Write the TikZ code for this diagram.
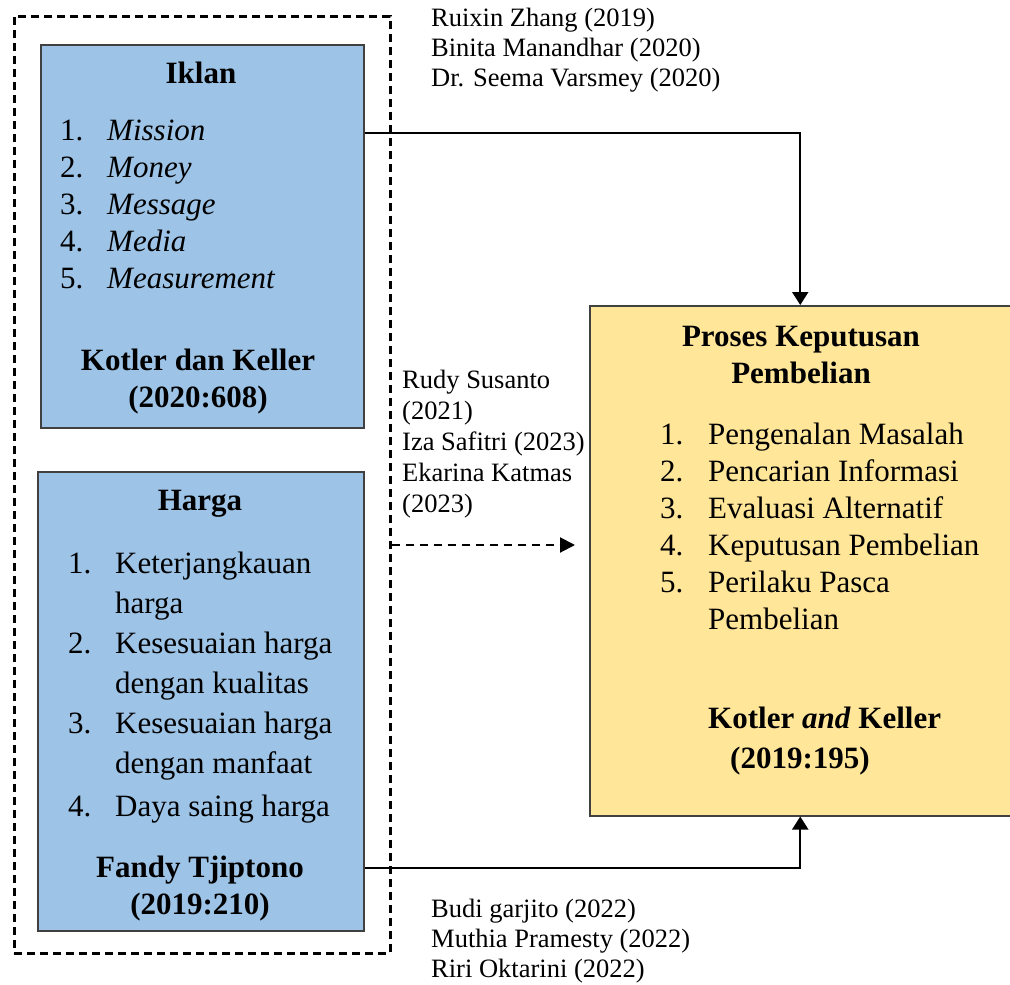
\documentclass[tikz,border=0pt]{standalone}
\usepackage{fontspec}
\setmainfont{Liberation Serif}
\usetikzlibrary{arrows.meta}
\definecolor{iklanfill}{HTML}{9DC3E6}
\definecolor{keputusanfill}{HTML}{FFE699}
\newcommand{\bodysize}{\fontsize{31}{37}\selectfont}
\newcommand{\refsize}{\fontsize{26.5}{30}\selectfont}

\begin{document}
\begin{tikzpicture}[x=1pt, y=-1pt,
    varbox/.style={draw=black!75, line width=1.5, anchor=north west, inner sep=0},
    groupbox/.style={draw=black, line width=2.5, dash pattern=on 8pt off 5pt, anchor=north west, inner sep=0},
    txt/.style={inner sep=0, font=\bodysize},
    reflist/.style={inner sep=0, anchor=base west, font=\refsize},
    flow/.style={line width=2, -{Triangle[width=16pt,length=13pt]}},
    dashflow/.style={line width=2, dash pattern=on 8pt off 6pt, -{Triangle[width=15pt,length=15pt]}}]
  \useasboundingbox (0,0) rectangle (1010,985);

  % Define the boxes
  \node[groupbox, minimum width=376, minimum height=937] (kelompok) at (13,15) {};
  \node[varbox, fill=iklanfill, minimum width=323, minimum height=383] (iklan) at (40,44) {};
  \node[varbox, fill=iklanfill, minimum width=326, minimum height=459] (harga) at (37,471) {};
  \node[varbox, fill=keputusanfill, minimum width=421, minimum height=510] (keputusan) at (589,305) {};

  % Iklan
  \node[txt, anchor=base] (iklanjudul) at (201,83) {\textbf{Iklan}};
  \node[txt, anchor=base west] (iklanisi) at (60,140) {\begin{tabular}[t]{@{}p{47pt}@{}l@{}}
      1. & \textit{Mission}\\
      2. & \textit{Money}\\
      3. & \textit{Message}\\
      4. & \textit{Media}\\
      5. & \textit{Measurement}
    \end{tabular}};
  \node[txt, anchor=base] (iklansumber) at (198,370) {\begin{tabular}[t]{@{}c@{}}
      \textbf{Kotler dan Keller}\\ \textbf{(2020:608)}
    \end{tabular}};

  % Harga
  \node[txt, anchor=base] (hargajudul) at (200,510) {\textbf{Harga}};
  \node[txt, anchor=base west, font=\fontsize{31}{40}\selectfont] (hargaisi) at (68,573) {\begin{tabular}[t]{@{}p{47pt}@{}l@{}}
      1. & Keterjangkauan\\
         & harga\\
      2. & Kesesuaian harga\\
         & dengan kualitas\\
      3. & Kesesuaian harga\\
         & dengan manfaat\\[3pt]
      4. & Daya saing harga
    \end{tabular}};
  \node[txt, anchor=base] (hargasumber) at (200,877) {\begin{tabular}[t]{@{}c@{}}
      \textbf{Fandy Tjiptono}\\ \textbf{(2019:210)}
    \end{tabular}};

  % Proses Keputusan Pembelian
  \node[txt, anchor=base] (keputusanjudul) at (801,346) {\begin{tabular}[t]{@{}c@{}}
      \textbf{Proses Keputusan}\\ \textbf{Pembelian}
    \end{tabular}};
  \node[txt, anchor=base west] (keputusanisi) at (660,444) {\begin{tabular}[t]{@{}p{48pt}@{}l@{}}
      1. & Pengenalan Masalah\\
      2. & Pencarian Informasi\\
      3. & Evaluasi Alternatif\\
      4. & Keputusan Pembelian\\
      5. & Perilaku Pasca\\
         & Pembelian
    \end{tabular}};
  \node[txt, anchor=base west, font=\fontsize{31}{40}\selectfont] (keputusansumber) at (708,728) {\begin{tabular}[t]{@{}l@{}}
      \textbf{Kotler \textit{and} Keller}\\ \hspace{22pt}\textbf{(2019:195)}
    \end{tabular}};

  % Penelitian terdahulu
  \node[reflist] (refiklan) at (431,27) {\begin{tabular}[t]{@{}l@{}}
      Ruixin Zhang (2019)\\ Binita Manandhar (2020)\\ Dr. Seema Varsmey (2020)
    \end{tabular}};
  \node[reflist, font=\fontsize{26.5}{31}\selectfont] (refbersama) at (402,388) {\begin{tabular}[t]{@{}l@{}}
      Rudy Susanto\\ (2021)\\ Iza Safitri (2023)\\ Ekarina Katmas\\ (2023)
    \end{tabular}};
  \node[reflist] (refharga) at (431,917) {\begin{tabular}[t]{@{}l@{}}
      Budi garjito (2022)\\ Muthia Pramesty (2022)\\ Riri Oktarini (2022)
    \end{tabular}};

  % Draw the arrows
  \coordinate (iklankeluar) at ([yshift=-89pt]iklan.north east);
  \coordinate (hargakeluar) at ([yshift=64pt]harga.south east);
  \coordinate (bersamaujung) at (575,545);
  \draw[flow] (iklankeluar) -| (keputusan.north);
  \draw[flow] (hargakeluar) -| (keputusan.south);
  \draw[dashflow] (kelompok.east |- bersamaujung) -- (bersamaujung);
\end{tikzpicture}
\end{document}
